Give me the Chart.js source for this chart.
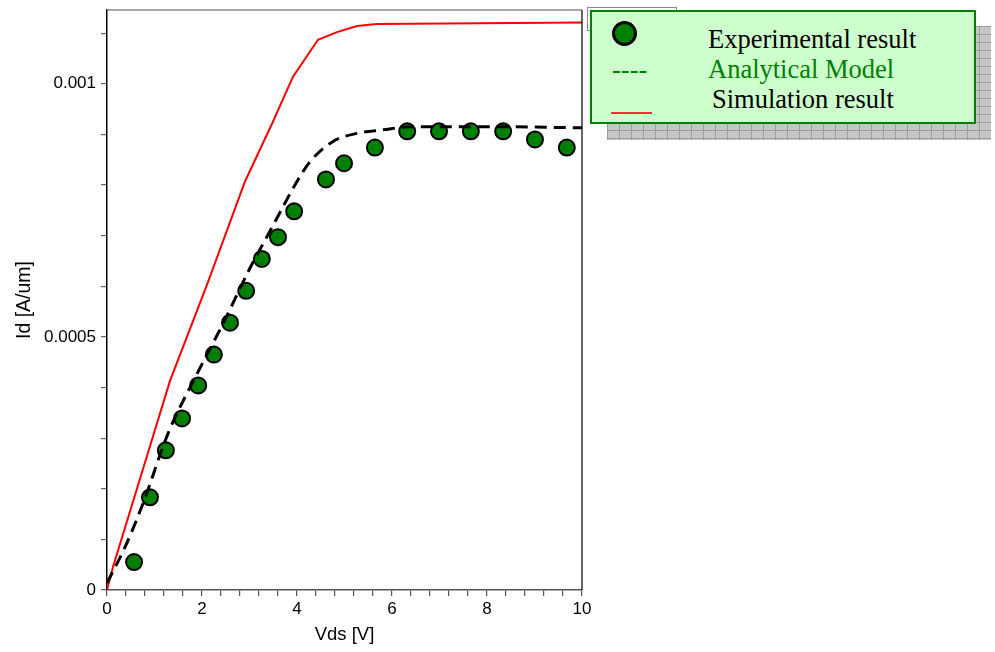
<!DOCTYPE html>
<html>
<head>
<meta charset="utf-8">
<script src="https://cdn.jsdelivr.net/npm/chart.js@4.4.0/dist/chart.umd.min.js"></script>
<style>
  html, body { margin: 0; padding: 0; background: #ffffff; }
  #wrap { position: relative; width: 995px; height: 652px; overflow: hidden; }
  #chart { position: absolute; left: 0; top: 0; }
  .abs { position: absolute; }
  #backBox { left: 587px; top: 7px; width: 88px; height: 22px; border: 1.5px solid #8a8a8a; background: #ffffff; }
  #shadow {
    left: 607px; top: 26px; width: 384px; height: 114px;
    background-color: #c6c6c6;
    background-image:
      linear-gradient(90deg, #9c9c9c 1px, transparent 1px),
      linear-gradient(#9c9c9c 1px, transparent 1px);
    background-size: 12px 8px;
  }
  #legend { left: 590px; top: 10px; width: 382px; height: 110px; background: #ccffcc; border: 2px solid #008000; }
  .ltxt { position: absolute; font-family: "Liberation Serif", "Times New Roman", serif; font-size: 26.5px; line-height: 26px; white-space: nowrap; }
  #dot { position: absolute; left: 611.5px; top: 20.5px; width: 25px; height: 25px; box-sizing: border-box; border-radius: 50%; background: #008000; border: 3px solid #000; }
  #redSeg { position: absolute; left: 611px; top: 112px; width: 41px; height: 1.5px; background: #f03030; }
</style>
</head>
<body>
<div id="wrap">
  <canvas id="chart" width="995" height="652"></canvas>
  <div id="backBox" class="abs"></div>
  <div id="shadow" class="abs"></div>
  <div id="legend" class="abs"></div>
  <div id="dot"></div>
  <div class="ltxt" style="left:708px; top:26px; color:#000;">Experimental result</div>
  <div class="ltxt" style="left:612px; top:56px; color:#008000;">----</div>
  <div class="ltxt" style="left:708px; top:56px; color:#008000;">Analytical Model</div>
  <div class="ltxt" style="left:712px; top:86px; color:#000;">Simulation result</div>
  <div id="redSeg"></div>
</div>
<script>
// Measured drain current versus drain voltage
const expVds = [0.57, 0.905, 1.24, 1.58, 1.92, 2.25, 2.59, 2.93, 3.26, 3.6, 3.94, 4.61, 4.99, 5.64, 6.32, 6.99, 7.66, 8.34, 9.01, 9.68];
const expId  = [0.0000551, 0.000183, 0.000276, 0.000339, 0.000404, 0.000465, 0.000528, 0.000591, 0.000654, 0.000697, 0.000748, 0.000811, 0.000843, 0.000874, 0.000906, 0.000906, 0.000906, 0.000906, 0.000890, 0.000874];

// Analytical model curve
const modelVds = [0, 0.379, 0.758, 1.284, 1.895, 2.442, 3.011, 3.432, 4.0, 4.274, 4.758, 5.263, 5.811, 6.379, 8.27, 10];
const modelId  = [0.0000138, 0.0000846, 0.000171, 0.000309, 0.000427, 0.000526, 0.000636, 0.000709, 0.000807, 0.000846, 0.000886, 0.000902, 0.000909, 0.000915, 0.000915, 0.000913];

// Device simulation curve
const simVds = [0, 0.126, 0.8, 1.326, 2.126, 2.905, 3.474, 3.916, 4.442, 4.842, 5.263, 5.684, 10];
const simId  = [0, 0.0000453, 0.000252, 0.000413, 0.000608, 0.000807, 0.000921, 0.001014, 0.001087, 0.001102, 0.001114, 0.001118, 0.001121];

// Axis ticks
const xTickValues = Array.from({length: 26}, (_, i) => i * 2 / 5);
const xLabelValues = [0, 2, 4, 6, 8, 10];
const yTickValues = Array.from({length: 12}, (_, i) => i / 10000);
const yLabelValues = [0, 0.0005, 0.001];
const yLabelText = ['0', '0.0005', '0.001'];

const pts = (xs, ys) => xs.map((x, i) => ({x, y: ys[i]}));
const near = (a, b) => Math.abs(a - b) < 1e-9;

// Top and right frame lines around the plot area
const framePlugin = {
  id: 'frame',
  afterDraw(chart) {
    const {ctx, chartArea: a} = chart;
    ctx.save();
    ctx.lineWidth = 1.5;
    ctx.strokeStyle = '#8a8a8a';
    ctx.beginPath(); ctx.moveTo(a.left, a.top); ctx.lineTo(a.right, a.top); ctx.stroke();
    ctx.strokeStyle = '#000';
    ctx.lineWidth = 1.2;
    ctx.beginPath(); ctx.moveTo(a.right, a.top); ctx.lineTo(a.right, a.bottom); ctx.stroke();
    ctx.restore();
  }
};

const tickFont = {family: '"Liberation Sans", Arial, sans-serif', size: 17};
const xTitleFont = {family: '"Liberation Sans", Arial, sans-serif', size: 18.5};
const yTitleFont = {family: '"Liberation Sans", Arial, sans-serif', size: 19.5};

new Chart(document.getElementById('chart'), {
  type: 'scatter',
  data: {
    datasets: [
      {
        label: 'Analytical Model',
        data: pts(modelVds, modelId),
        showLine: true,
        borderColor: '#000',
        borderWidth: 3,
        borderDash: [12, 7],
        pointRadius: 0,
        cubicInterpolationMode: 'monotone',
        order: 0
      },
      {
        label: 'Experimental result',
        data: pts(expVds, expId),
        showLine: false,
        pointRadius: 8,
        pointBackgroundColor: '#008000',
        pointBorderColor: '#000',
        pointBorderWidth: 2,
        order: 1
      },
      {
        label: 'Simulation result',
        data: pts(simVds, simId),
        showLine: true,
        borderColor: '#ff0000',
        borderWidth: 2,
        pointRadius: 0,
        tension: 0,
        order: 2
      }
    ]
  },
  options: {
    responsive: false,
    animation: false,
    layout: {padding: {left: 0, right: 413, top: 8, bottom: 0}},
    plugins: {legend: {display: false}, tooltip: {enabled: false}},
    scales: {
      x: {
        type: 'linear',
        min: 0, max: 10,
        afterBuildTicks(scale) { scale.ticks = xTickValues.map(v => ({value: v})); },
        afterFit(scale) { scale.height = 62; scale.paddingLeft = 0; scale.paddingRight = 0; },
        ticks: {
          autoSkip: false, maxRotation: 0, padding: 3, color: '#000', font: tickFont,
          callback: v => xLabelValues.some(l => near(l, v)) ? String(Math.round(v)) : ''
        },
        grid: {drawOnChartArea: false, tickLength: 6, color: '#555', lineWidth: 1.2},
        border: {color: '#555', width: 1.5},
        title: {display: true, text: 'Vds [V]', color: '#000', font: xTitleFont, padding: {top: 0, bottom: 6}}
      },
      y: {
        type: 'linear',
        min: 0, max: 0.0011457,
        afterBuildTicks(scale) { scale.ticks = yTickValues.map(v => ({value: v})); },
        afterFit(scale) { scale.width = 107; scale.paddingTop = 0; scale.paddingBottom = 0; },
        ticks: {
          autoSkip: false, padding: 5, color: '#000', font: tickFont,
          callback: v => { const k = yLabelValues.findIndex(l => near(l, v)); return k >= 0 ? yLabelText[k] : ''; }
        },
        grid: {drawOnChartArea: false, tickLength: 6, color: '#666', lineWidth: 1.2},
        border: {color: '#000', width: 1.5},
        title: {display: true, text: 'Id [A/um]', color: '#000', font: yTitleFont, padding: {top: 13, bottom: 0}}
      }
    }
  },
  plugins: [framePlugin]
});
</script>
</body>
</html>
